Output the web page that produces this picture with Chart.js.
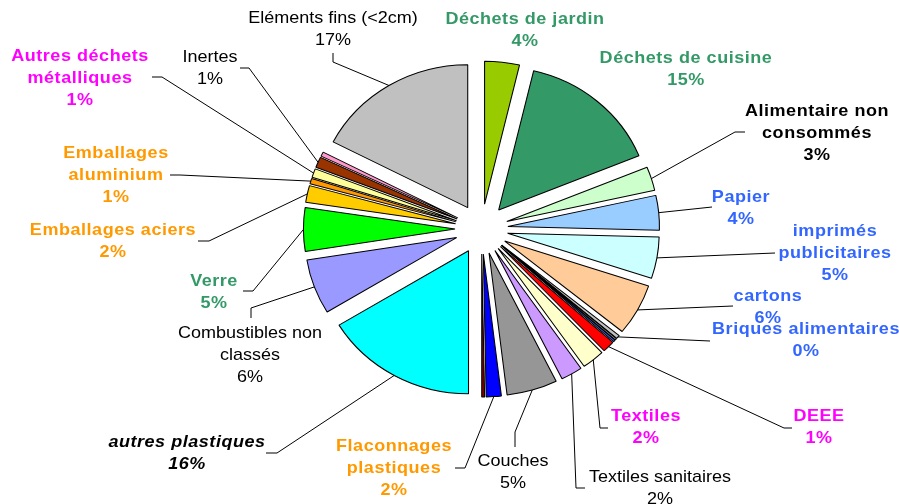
<!DOCTYPE html>
<html><head><meta charset="utf-8">
<script src="https://cdn.jsdelivr.net/npm/chart.js@4/dist/chart.umd.min.js"></script>
<style>html,body{margin:0;padding:0;background:#fff;}canvas{display:block;}</style>
</head><body>
<canvas id="c" width="899" height="504"></canvas>
<script>
// ---- data (clockwise from 12 o'clock) ----
const categories = [
  "Déchets de jardin", "Déchets de cuisine", "Alimentaire non consommés", "Papier",
  "imprimés publicitaires", "cartons", "Briques alimentaires", "", "", "DEEE",
  "Textiles", "Textiles sanitaires", "Couches", "Flaconnages plastiques", "",
  "autres plastiques", "Combustibles non classés", "Verre", "Emballages aciers",
  "Emballages aluminium", "Autres déchets métalliques", "Inertes", "", "Eléments fins (<2cm)"
];
const values = [
  3.7, 15.1, 2.7, 3.9,
  4.7, 5.8, 0.4, 0.2, 0.2, 1.3,
  2.4, 2.3, 5.4, 1.6, 0.3,
  16.3, 6.2, 4.9, 1.9,
  0.6, 1.0, 1.2, 0.5, 17.4
];
const sliceColors = [
  "#99CC00", "#339966", "#CCFFCC", "#99CCFF",
  "#CCFFFF", "#FFCC99", "#C0C0C0", "#969696", "#3366FF", "#FF0000",
  "#FFFFCC", "#CC99FF", "#969696", "#0000FF", "#800000",
  "#00FFFF", "#9999FF", "#00FF00", "#FFCC00",
  "#FF9900", "#FFFF99", "#993300", "#FF99CC", "#C0C0C0"
];

// ---- layout / style ----
const R = 143, EXPLODE = 25, SX = 1.06;
const GREEN = "#339966", BLUE = "#3366FF", MAG = "#FF00FF", ORANGE = "#FF9900", BLACK = "#000000";
const labelLayout = {
  0:  {x:525, y:19, color:GREEN, bold:true},
  1:  {x:686, y:58, color:GREEN, bold:true},
  2:  {x:817, y:111, color:BLACK, bold:true, wrap:[2,1], leader:[[745,132],[735,132]]},
  3:  {x:741, y:197, color:BLUE, bold:true, leader:[[712,207]]},
  4:  {x:835, y:231, color:BLUE, bold:true, wrap:[1,1], leader:[[775,253]]},
  5:  {x:768, y:296, color:BLUE, bold:true, leader:[[733,306]]},
  6:  {x:806, y:329, color:BLUE, bold:true, leader:[[710,341]]},
  9:  {x:819, y:416, color:MAG, bold:true, leader:[[792,428],[784,428]]},
  10: {x:646, y:416, color:MAG, bold:true, leader:[[608,428],[600,428]]},
  11: {x:660, y:477, color:BLACK, leader:[[585,488],[576,488]]},
  12: {x:513, y:461, color:BLACK, leader:[[515,447],[515,432]]},
  13: {x:394, y:446, color:ORANGE, bold:true, wrap:[1,1], leader:[[455,468],[465,468]]},
  15: {x:187, y:442, color:BLACK, bold:true, italic:true, leader:[[266,453],[277,453]]},
  16: {x:250, y:333, color:BLACK, wrap:[2,1], leader:[[251,318],[251,308]]},
  17: {x:214, y:281, color:GREEN, bold:true, leader:[[243,291],[253,291]]},
  18: {x:113, y:230, color:ORANGE, bold:true, leader:[[198,241],[209,241]]},
  19: {x:116, y:153, color:ORANGE, bold:true, wrap:[1,1], leader:[[170,175],[180,175]]},
  20: {x:80,  y:56, color:MAG, bold:true, wrap:[2,1], leader:[[152,77],[162,77]]},
  21: {x:210, y:57, color:BLACK, leader:[[240,68],[249,68]]},
  23: {x:333, y:18, color:BLACK, leader:[[333,53],[333,62]]}
};
const LINE_GAP = 22;

function wrapName(name, wrap) {
  if (!wrap) return [name];
  const words = name.split(" ");
  const out = []; let k = 0;
  wrap.forEach(n => { out.push(words.slice(k, k + n).join(" ")); k += n; });
  return out;
}

// explode each slice by translating it along its bisector (same distance for all slices),
// and stretch the pie slightly horizontally like the reference
const explodePlugin = {
  id: "explode",
  beforeDatasetsDraw(chart) {
    const meta = chart.getDatasetMeta(0);
    meta.data.forEach(arc => {
      if (arc._exploded) return;
      const baseDraw = arc.draw;
      arc.draw = function (ctx) {
        const mid = (this.startAngle + this.endAngle) / 2;
        ctx.save();
        ctx.translate(Math.cos(mid) * EXPLODE, Math.sin(mid) * EXPLODE);
        baseDraw.call(this, ctx);
        ctx.restore();
      };
      arc._exploded = true;
    });
    const cx = meta.data[0].x;
    const ctx = chart.ctx;
    ctx.save();
    ctx.translate(cx, 0); ctx.scale(SX, 1); ctx.translate(-cx, 0);
  },
  afterDatasetsDraw(chart) { chart.ctx.restore(); }
};

const labelPlugin = {
  id: "labels",
  afterDraw(chart) {
    const ctx = chart.ctx;
    const meta = chart.getDatasetMeta(0);
    const total = values.reduce((a, b) => a + b, 0);
    Object.keys(labelLayout).forEach(key => {
      const i = +key, L = labelLayout[i], arc = meta.data[i];
      if (L.leader) {
        const mid = (arc.startAngle + arc.endAngle) / 2;
        const px = arc.x + Math.cos(mid) * (R + EXPLODE) * SX;
        const py = arc.y + Math.sin(mid) * (R + EXPLODE);
        ctx.save();
        ctx.strokeStyle = "#000"; ctx.lineWidth = 1;
        ctx.beginPath();
        L.leader.forEach((p, j) => j ? ctx.lineTo(p[0], p[1]) : ctx.moveTo(p[0], p[1]));
        ctx.lineTo(px, py);
        ctx.stroke();
        ctx.restore();
      }
      const lines = wrapName(categories[i], L.wrap);
      lines.push(Math.round(values[i] / total * 100) + "%");
      ctx.save();
      ctx.fillStyle = L.color;
      ctx.font = (L.italic ? "italic " : "") + (L.bold ? "bold " : "") + "17px 'Liberation Sans', Arial, sans-serif";
      ctx.textAlign = "center"; ctx.textBaseline = "middle";
      if (L.bold) ctx.letterSpacing = "0.5px";
      lines.forEach((t, j) => {
        ctx.save();
        ctx.translate(L.x, L.y + j * LINE_GAP);
        ctx.scale(SX, 1);
        ctx.fillText(t, 0, 0);
        ctx.restore();
      });
      ctx.restore();
    });
  }
};

new Chart(document.getElementById("c"), {
  type: "pie",
  data: {
    labels: categories,
    datasets: [{
      data: values,
      backgroundColor: sliceColors,
      borderColor: "#000",
      borderWidth: 1,
      offset: 0,
      clip: false
    }]
  },
  options: {
    responsive: false,
    animation: false,
    events: [],
    radius: R,
    layout: { padding: { left: 64, right: 0, top: 0, bottom: 46 } },
    plugins: { legend: { display: false }, tooltip: { enabled: false } }
  },
  plugins: [explodePlugin, labelPlugin]
});
</script>
</body></html>
